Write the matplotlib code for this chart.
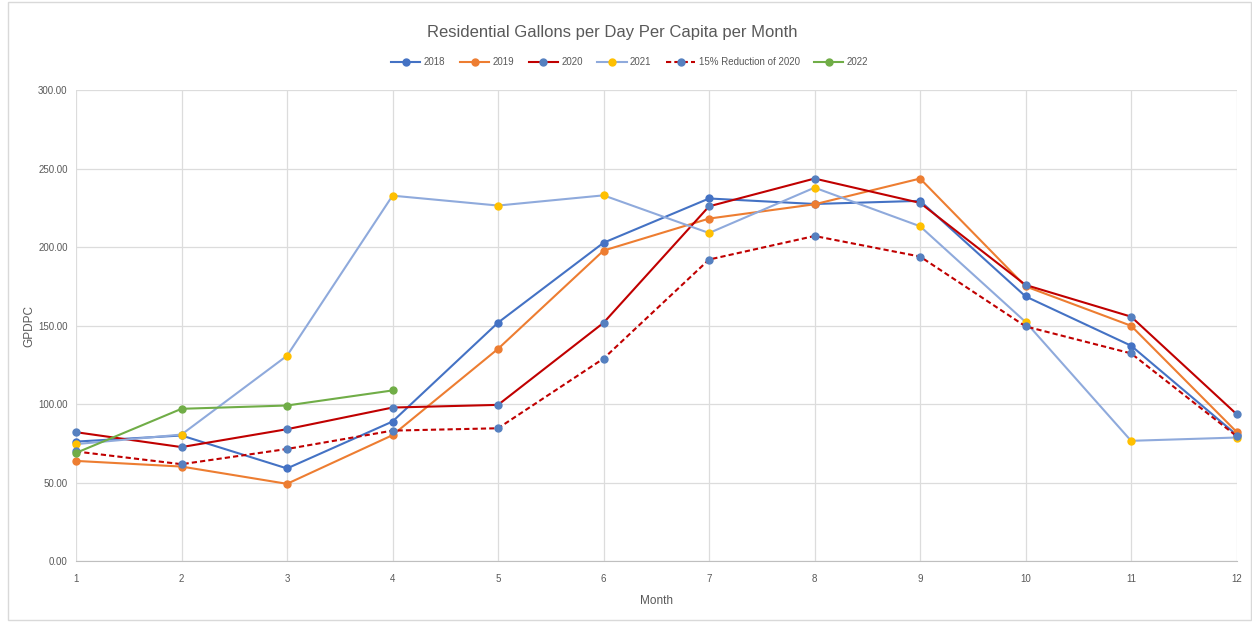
import matplotlib
matplotlib.use("Agg")
import matplotlib.pyplot as plt
from matplotlib.patches import Rectangle

plt.rcParams["font.family"] = ["Liberation Sans", "DejaVu Sans"]

months = list(range(1, 13))
gpdpc_2018 = [76.1, 80.0, 59.0, 88.9, 151.9, 202.8, 231.0, 227.5, 229.5, 168.6, 137.2, 80.4]
gpdpc_2019 = [63.8, 60.2, 49.2, 80.2, 135.2, 197.8, 218.2, 227.3, 243.7, 175.0, 149.9, 82.3]
gpdpc_2020 = [82.1, 72.6, 84.0, 97.8, 99.5, 151.8, 226.0, 243.7, 228.2, 175.9, 155.7, 93.6]
gpdpc_2021 = [74.5, 80.6, 130.8, 232.8, 226.5, 233.0, 209.0, 237.9, 213.3, 152.3, 76.6, 78.7]
reduction_2020 = [69.8, 61.7, 71.4, 83.1, 84.6, 129.0, 192.1, 207.1, 194.0, 149.5, 132.3, 79.6]
months_2022 = [1, 2, 3, 4]
gpdpc_2022 = [68.9, 97.0, 99.1, 108.7]

BLUE = "#4472C4"
ORANGE = "#ED7D31"
DRED = "#C00000"
LBLUE = "#8FAADC"
GOLD = "#FFC000"
GREEN = "#70AD47"
MBLUE = "#5580C0"
TXT = "#595959"

fig = plt.figure(figsize=(12.52, 6.22), dpi=100)
fig.patches.append(Rectangle((0.006, 0.003), 0.993, 0.994, transform=fig.transFigure,
                             fill=False, edgecolor="#D9D9D9", lw=1))
ax = fig.add_axes([0.0607, 0.098, 0.927, 0.757])

kw = dict(lw=1.5, marker="o", markersize=5, clip_on=False)
ax.plot(months, gpdpc_2018, color=BLUE, mfc=BLUE, mec=BLUE, label="2018", **kw)
ax.plot(months, gpdpc_2019, color=ORANGE, mfc=ORANGE, mec=ORANGE, label="2019", **kw)
ax.plot(months, gpdpc_2020, color=DRED, mfc=MBLUE, mec=MBLUE, label="2020", **kw)
ax.plot(months, gpdpc_2021, color=LBLUE, mfc=GOLD, mec=GOLD, label="2021", **kw)
ax.plot(months, reduction_2020, color=DRED, ls=(0, (2.5, 1.5)), mfc=MBLUE, mec=MBLUE,
        label="15% Reduction of 2020", **kw)
ax.plot(months_2022, gpdpc_2022, color=GREEN, mfc=GREEN, mec=GREEN, label="2022", **kw)

ax.set_xlim(1, 12)
ax.set_ylim(0, 300)
ax.set_xticks(months)
ax.set_yticks(range(0, 301, 50))
ax.set_yticklabels([f"{v:.2f}" for v in range(0, 301, 50)])
ax.grid(True, color="#DCDCDC", lw=0.9)
ax.set_axisbelow(True)
for s in ["top", "right", "left"]:
    ax.spines[s].set_visible(False)
ax.spines["bottom"].set_color("#BFBFBF")
ax.tick_params(axis="x", length=0, colors=TXT, labelsize=7, pad=9)
ax.tick_params(axis="y", length=0, colors=TXT, labelsize=7, pad=6)
ax.set_xlabel("Month", color=TXT, fontsize=8.5, labelpad=8)
ax.set_ylabel("GPDPC", color=TXT, fontsize=8.5, labelpad=2)

fig.text(0.489, 0.948, "Residential Gallons per Day Per Capita per Month", ha="center",
         va="center", color=TXT, fontsize=12)
leg = fig.legend(loc="center", bbox_to_anchor=(0.503, 0.9), ncol=6, frameon=False,
                 fontsize=7, handlelength=3.0, columnspacing=1.5, handletextpad=0.35)
for t in leg.get_texts():
    t.set_color(TXT)

fig.savefig("out.png", dpi=100)
